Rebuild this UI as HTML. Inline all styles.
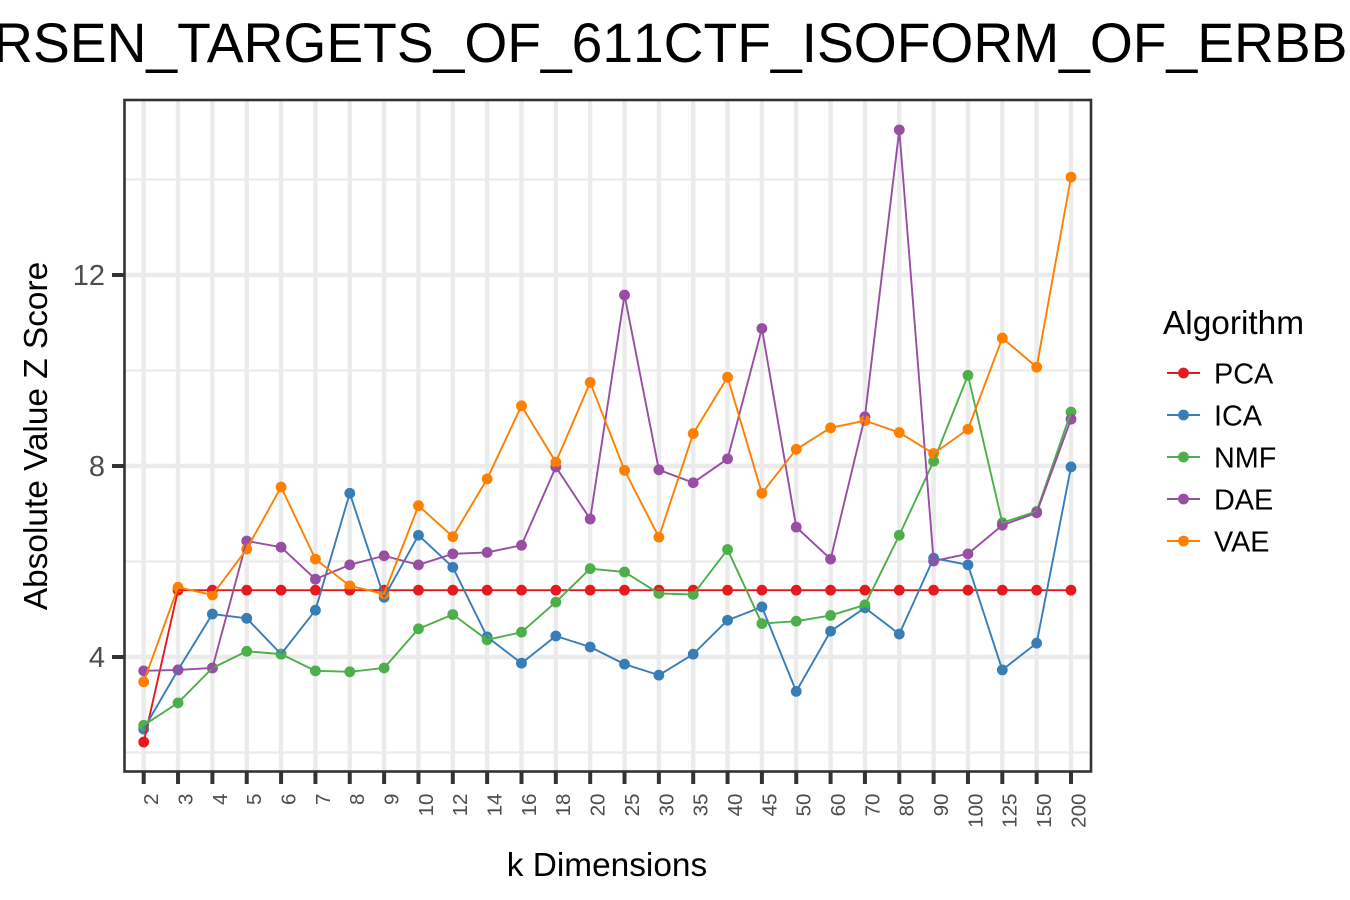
<!DOCTYPE html>
<html>
<head>
<meta charset="utf-8">
<title>Absolute Value Z Score by k Dimensions</title>
<style>
html,body{margin:0;padding:0;background:#fff;width:1350px;height:900px;overflow:hidden}
svg{display:block}
text{font-family:"Liberation Sans",Arial,sans-serif}
</style>
</head>
<body>
<svg id="chart" xmlns="http://www.w3.org/2000/svg" width="1350" height="900" viewBox="0 0 1350 900">
  <rect x="0" y="0" width="1350" height="900" fill="#fff"/>
  <g id="grid"></g>
  <g id="points"></g>
  <g id="lines"></g>
  <rect x="124.5" y="100" width="966.5" height="671.5" fill="none" stroke="#333" stroke-width="2.6"/>
  <g id="axes"></g>
  <text x="610.5" y="62" font-size="55.2" text-anchor="middle" fill="#000">PEDERSEN_TARGETS_OF_61<tspan dx="4">1</tspan>CTF_ISOFORM_OF_ERBB2</text>
  <text x="607" y="876" font-size="33.4" text-anchor="middle" fill="#000">k Dimensions</text>
  <text transform="translate(47,436) rotate(-90)" font-size="33.4" text-anchor="middle" fill="#000">Absolute Value Z Score</text>
  <g id="legend">
    <text x="1163" y="334" font-size="33.4" fill="#000">Algorithm</text>
  </g>
</svg>
<script>
const categories = ["2","3","4","5","6","7","8","9","10","12","14","16","18","20","25","30","35","40","45","50","60","70","80","90","100","125","150","200"];
const yTickLabels = [4, 8, 12];
const yMinorTicks = [2, 6, 10, 14];
const seriesNames = ["PCA","ICA","NMF","DAE","VAE"];
const seriesColors = ["#E41A1C","#377EB8","#4DAF4A","#984EA3","#FF7F00"];
const pcaValues = [2.22,5.40,5.40,5.40,5.40,5.40,5.40,5.40,5.40,5.40,5.40,5.40,5.40,5.40,5.40,5.40,5.40,5.40,5.40,5.40,5.40,5.40,5.40,5.40,5.40,5.40,5.40,5.40];
const icaValues = [2.49,3.73,4.90,4.81,4.06,4.98,7.43,5.25,6.55,5.88,4.42,3.87,4.44,4.21,3.85,3.62,4.06,4.77,5.05,3.28,4.54,5.03,4.48,6.07,5.93,3.73,4.29,7.98];
const nmfValues = [2.57,3.04,3.77,4.12,4.06,3.71,3.69,3.77,4.59,4.89,4.36,4.52,5.15,5.85,5.78,5.33,5.31,6.25,4.70,4.75,4.87,5.09,6.55,8.10,9.90,6.81,7.05,9.13];
const daeValues = [3.71,3.73,3.77,6.43,6.30,5.63,5.93,6.12,5.93,6.16,6.19,6.34,7.98,6.89,11.58,7.92,7.65,8.15,10.88,6.72,6.05,9.03,15.04,6.01,6.16,6.76,7.02,8.98];
const vaeValues = [3.48,5.46,5.30,6.26,7.56,6.05,5.49,5.32,7.17,6.52,7.73,9.26,8.08,9.75,7.91,6.51,8.68,9.86,7.43,8.35,8.80,8.95,8.70,8.26,8.77,10.68,10.07,14.05];
const seriesValues = [pcaValues, icaValues, nmfValues, daeValues, vaeValues];

const NS = "http://www.w3.org/2000/svg";
const panelLeft = 124.5, panelRight = 1091, panelTop = 100, panelBottom = 771.5;
function xScale(i) { return 143.7 + i * (1071 - 143.7) / (categories.length - 1); }
function yScale(v) { return 657 - (v - 4) * 47.75; }
function make(tag, attrs, parent) {
  const el = document.createElementNS(NS, tag);
  for (const k in attrs) el.setAttribute(k, attrs[k]);
  parent.appendChild(el);
  return el;
}
const grid = document.getElementById("grid");
const axes = document.getElementById("axes");
const pointsG = document.getElementById("points");
const linesG = document.getElementById("lines");
const legend = document.getElementById("legend");

yMinorTicks.forEach(function (v) {
  const l = make("line", {x1: panelLeft, x2: panelRight, y1: yScale(v), y2: yScale(v), stroke: "#ebebeb", "stroke-width": 2.2}, grid);
  
  
});
yTickLabels.forEach(function (v) {
  const l = make("line", {x1: panelLeft, x2: panelRight, y1: yScale(v), y2: yScale(v), stroke: "#ebebeb", "stroke-width": 4.4}, grid);
  
  
  const t = make("line", {x1: 112, x2: panelLeft, y1: yScale(v), y2: yScale(v), stroke: "#333", "stroke-width": 4}, axes);
  
  
  const s = make("text", {x: 105, y: yScale(v) + 10.2, "font-size": 29, "text-anchor": "end", fill: "#4d4d4d"}, axes);
  
  
  s.textContent = v;
});
categories.forEach(function (c, i) {
  const x = xScale(i);
  const g = make("line", {x1: x, x2: x, y1: panelTop, y2: panelBottom, stroke: "#ebebeb", "stroke-width": 4.4}, grid);
  
  
  const t = make("line", {x1: x, x2: x, y1: panelBottom, y2: 784, stroke: "#333", "stroke-width": 4}, axes);
  
  
  const s = make("text", {transform: "translate(" + (x + 14.4) + ",793.5) rotate(-90)", "font-size": 20.6, "text-anchor": "end", fill: "#4d4d4d"}, axes);
  
  
  s.textContent = c;
});
seriesValues.forEach(function (values, si) {
  values.forEach(function (v, i) {
    const p = make("circle", {cx: xScale(i), cy: yScale(v), r: 5.4, fill: seriesColors[si]}, pointsG);
    
    
  });
});
seriesValues.forEach(function (values, si) {
  const d = values.map(function (v, i) { return xScale(i).toFixed(2) + "," + yScale(v).toFixed(2); }).join(" ");
  const l = make("polyline", {points: d, fill: "none", stroke: seriesColors[si], "stroke-width": 1.9, "stroke-linejoin": "round"}, linesG);
  
  
});
seriesNames.forEach(function (n, i) {
  const y = 373 + i * 42;
  const l = make("line", {x1: 1167, x2: 1200, y1: y, y2: y, stroke: seriesColors[i], "stroke-width": 1.9}, legend);
  
  
  const c = make("circle", {cx: 1183.5, cy: y, r: 5.4, fill: seriesColors[i]}, legend);
  
  
  const t = make("text", {x: 1214, y: y + 10.5, "font-size": 28.8, fill: "#000"}, legend);
  
  
  t.textContent = n;
});
</script>
</body>
</html>
